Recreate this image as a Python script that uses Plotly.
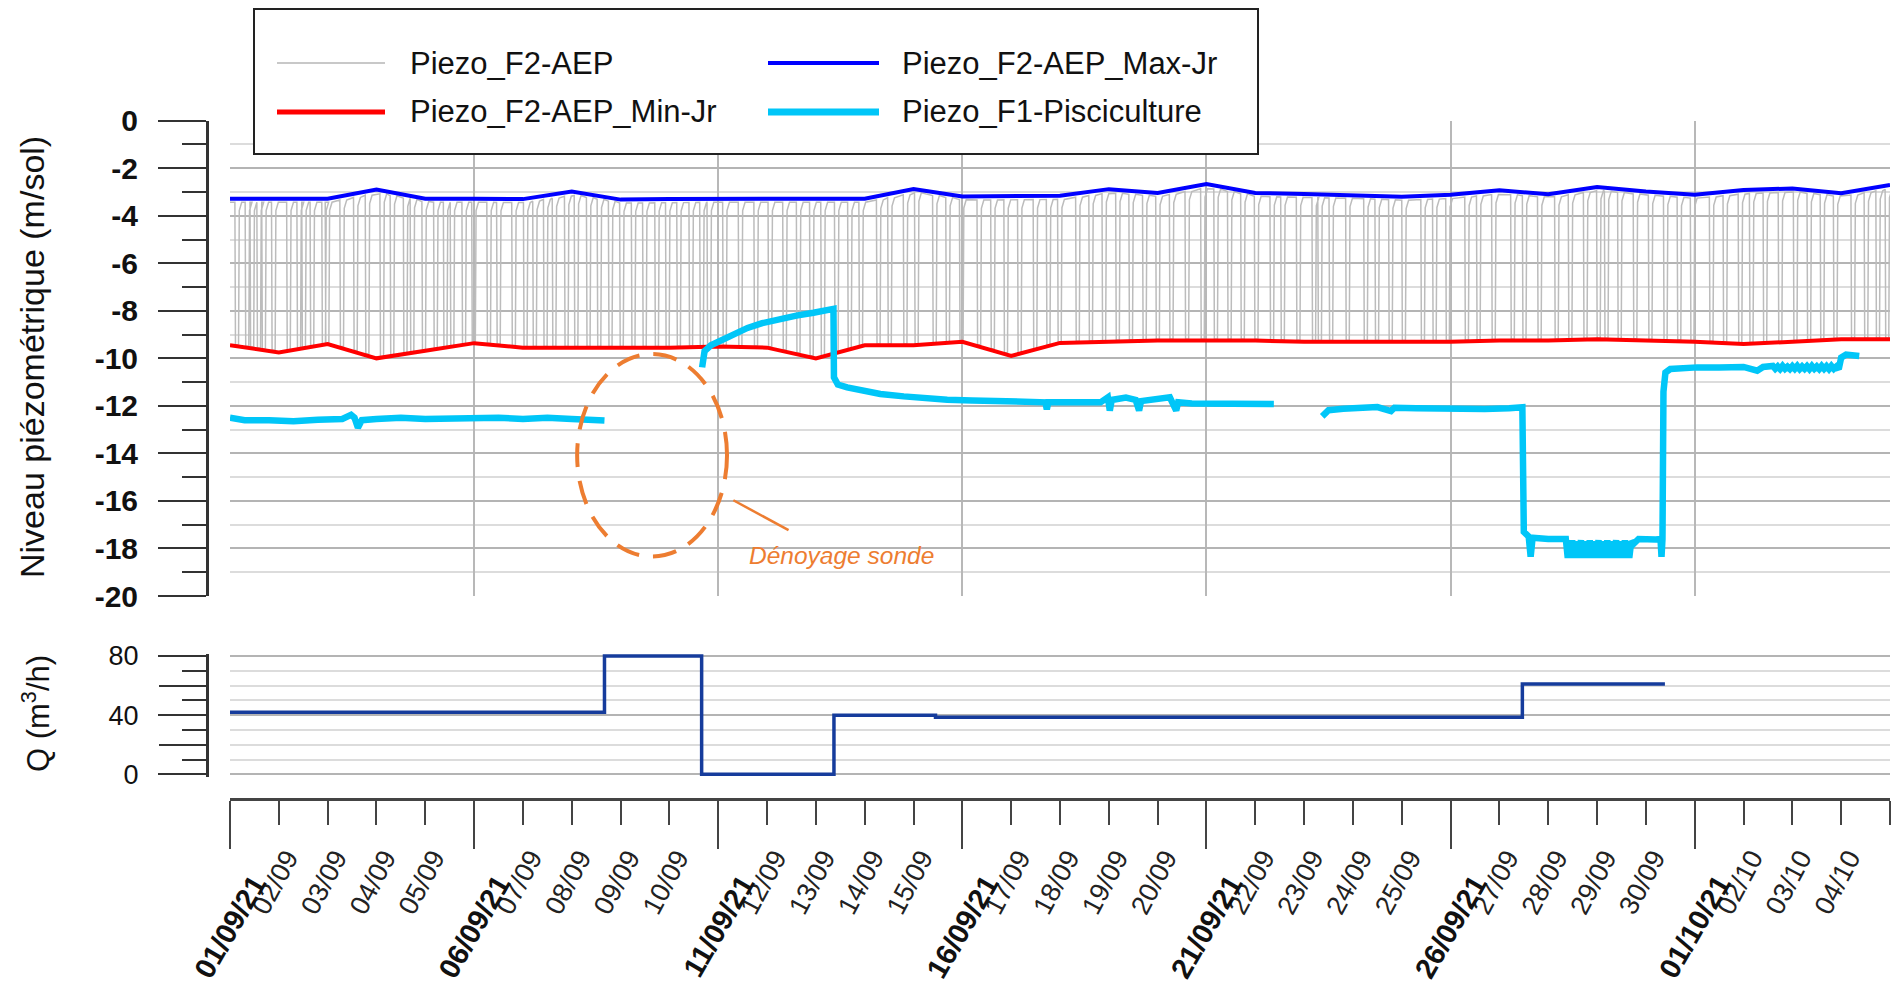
import numpy as np
import pandas as pd
import plotly.graph_objects as go

W, H = 1899, 996
T0 = pd.Timestamp("2021-09-01")


def t(days):
    return [None if d is None else T0 + pd.Timedelta(days=float(d)) for d in days]


def px(x):
    return x / W


def py(y):
    return 1 - y / H


# ---------------- data ----------------
# daily points, 01/09/21 .. 05/10/21 (day offsets 0..34)
day_index = list(range(35))
f2_max_jr = [-3.28, -3.28, -3.28, -2.90, -3.28, -3.28, -3.30, -2.98, -3.32, -3.30,
             -3.28, -3.28, -3.28, -3.28, -2.88, -3.19, -3.18, -3.16, -2.88, -3.04,
             -2.67, -3.04, -3.08, -3.12, -3.20, -3.12, -2.93, -3.09, -2.79, -2.98,
             -3.12, -2.92, -2.85, -3.05, -2.70]
f2_min_jr = [-9.45, -9.75, -9.40, -10.00, -9.68, -9.36, -9.55, -9.55, -9.55, -9.55,
             -9.50, -9.55, -10.00, -9.45, -9.45, -9.30, -9.90, -9.35, -9.30, -9.25,
             -9.25, -9.25, -9.30, -9.30, -9.30, -9.30, -9.25, -9.25, -9.20, -9.25,
             -9.30, -9.40, -9.30, -9.20, -9.20]

# pump start times on F2-AEP (day offsets): each one draws the level down to the daily min
f2_pump_starts = [
    0.10, 0.31, 0.41, 0.55, 0.65, 0.85, 1.16, 1.37, 1.47, 1.64, 1.88, 1.95,
    2.25, 2.53, 2.77, 3.07, 3.28, 3.55, 3.69, 3.93, 4.17, 4.37, 4.51, 4.75,
    4.95, 5.26, 5.46, 5.77, 6.01, 6.20, 6.42, 6.60, 6.85, 7.05, 7.30, 7.52,
    7.75, 7.98, 8.22, 8.45, 8.70, 8.92, 9.15, 9.40, 9.62, 9.77, 10.09, 10.41,
    10.73, 11.02, 11.32, 11.60, 11.87, 12.10, 12.38, 12.65, 12.88, 13.24, 13.47,
    13.79, 14.02, 14.39, 14.66, 14.94, 15.30, 15.58, 15.85, 16.13, 16.45, 16.72,
    16.95, 17.32, 17.59, 17.86, 18.14, 18.41, 18.69, 18.96, 19.24, 19.56, 19.88,
    20.15, 20.43, 20.70, 20.98, 21.30, 21.52, 21.84, 22.16, 22.28, 22.51, 22.85,
    23.22, 23.45, 23.73, 24.00, 24.39, 24.63, 24.90, 25.29, 25.53, 25.84, 26.23,
    26.47, 26.78, 27.13, 27.41, 27.72, 27.99, 28.15, 28.42, 28.74, 29.05, 29.36,
    29.64, 29.91, 30.30, 30.58, 30.89, 31.12, 31.40, 31.71, 32.02, 32.30, 32.57,
    32.84, 33.20, 33.47, 33.71, 33.90]

# Piezo_F1-Pisciculture, recorded segments (day offset, level)
f1_segments = [
    ([0.0, 0.3, 0.8, 1.3, 1.8, 2.3, 2.48, 2.55, 2.62, 2.7, 3.0, 3.5, 4.0, 4.5,
      5.0, 5.5, 6.0, 6.5, 7.0, 7.4, 7.67],
     [-12.5, -12.6, -12.6, -12.65, -12.58, -12.55, -12.38, -12.5, -12.92, -12.6,
      -12.55, -12.5, -12.55, -12.52, -12.55, -12.5, -12.55, -12.5, -12.55, -12.6, -12.62]),
    ([9.67, 9.72, 9.85, 10.1, 10.35, 10.6, 10.9, 11.27, 11.6, 11.95, 12.36, 12.37,
      12.45, 12.64, 13.0, 13.32, 13.8, 14.2, 14.69, 15.2, 15.6, 16.05, 16.5, 16.7,
      16.73, 16.76, 17.3, 17.83, 17.98, 18.02, 18.06, 18.35, 18.55, 18.62, 18.66,
      18.9, 19.25, 19.38, 19.42, 19.7, 20.3, 20.8, 21.38],
     [-10.38, -9.7, -9.45, -9.2, -8.95, -8.72, -8.52, -8.33, -8.2, -8.08, -7.92, -10.8,
      -11.1, -11.22, -11.38, -11.5, -11.6, -11.68, -11.74, -11.77, -11.8, -11.78, -11.83, -11.85,
      -12.15, -11.85, -11.85, -11.85, -11.64, -12.2, -11.75, -11.65, -11.75, -12.2, -11.8,
      -11.71, -11.64, -12.2, -11.85, -11.9, -11.92, -11.9, -11.92]),
    ([22.37, 22.5, 22.8, 23.2, 23.5, 23.78, 23.85, 24.3, 24.8, 25.2, 25.7, 26.2, 26.47,
      26.5, 26.6, 26.64, 26.68, 27.0, 27.36,
      27.40, 27.43, 27.46, 27.49, 27.52, 27.55, 27.58, 27.61, 27.64, 27.67, 27.70,
      27.73, 27.76, 27.79, 27.82, 27.85, 27.88, 27.91, 27.94, 27.97, 28.00, 28.03,
      28.06, 28.09, 28.12, 28.15, 28.18, 28.21, 28.24, 28.27, 28.30, 28.33, 28.36,
      28.39, 28.42, 28.45, 28.48, 28.51, 28.54, 28.57, 28.60, 28.63, 28.66, 28.70,
      28.75, 28.85, 29.2, 29.3, 29.32, 29.34, 29.36, 29.4, 29.5, 29.8, 30.05, 30.5,
      31.0, 31.28, 31.4, 31.6, 31.65, 31.7, 31.75, 31.8, 31.85, 31.9, 31.95, 32.0,
      32.05, 32.1, 32.15, 32.2, 32.25, 32.3, 32.35, 32.4, 32.45, 32.5, 32.55, 32.6,
      32.65, 32.7, 32.75, 32.8, 32.85, 32.9, 32.95, 33.0, 33.1, 33.37],
     [-12.44, -12.18, -12.12, -12.08, -12.05, -12.22, -12.08, -12.1, -12.12, -12.1, -12.13,
      -12.1, -12.06, -17.3, -17.5, -18.35, -17.55, -17.6, -17.6,
      -18.4, -17.7, -18.4, -17.65, -18.38, -17.7, -18.4, -17.8, -18.35, -17.65, -18.4,
      -17.75, -18.4, -17.7, -18.38, -17.65, -18.4, -17.8, -18.4, -17.7, -18.35, -17.65,
      -18.4, -17.75, -18.4, -17.7, -18.38, -17.65, -18.4, -17.8, -18.4, -17.7, -18.35,
      -17.65, -18.4, -17.75, -18.4, -17.7, -18.38, -17.65, -18.4, -17.8, -18.4, -17.7,
      -17.8, -17.6, -17.62, -17.6, -18.35, -17.6, -11.4, -10.6, -10.45, -10.4, -10.38,
      -10.38, -10.36, -10.52, -10.36, -10.32, -10.44, -10.34, -10.45, -10.32, -10.44,
      -10.35, -10.45, -10.33, -10.44, -10.32, -10.45, -10.34, -10.44, -10.33, -10.45,
      -10.32, -10.44, -10.34, -10.45, -10.32, -10.44, -10.33, -10.45, -10.32, -10.44,
      -10.35, -10.45, -9.97, -9.84, -9.9]),
]

# pumping rate Q (m3/h), step changes
q_change_days = [0.0, 7.67, 9.66, 12.37, 14.45, 26.47, 29.39]
q_values = [42, 80, 0, 40, 38.5, 61, 61]

# axis labels
major_days = [0, 5, 10, 15, 20, 25, 30]
major_labels = ["01/09/21", "06/09/21", "11/09/21", "16/09/21", "21/09/21", "26/09/21", "01/10/21"]
minor_days = [d for d in range(1, 34) if d % 5 != 0]
minor_labels = [(T0 + pd.Timedelta(days=d)).strftime("%d/%m") for d in minor_days]
level_ticks = list(range(0, -21, -2))
q_label_ticks = [0, 40, 80]
q_long_ticks = [20, 60]

# ---------------- derived traces ----------------
gx, gy = [], []
for s in f2_pump_starts:
    top = float(np.interp(s, day_index, f2_max_jr)) - 0.15
    bot = float(np.interp(s, day_index, f2_min_jr)) + 0.05
    for dx, lev in [(0.0, top), (0.012, bot), (0.075, bot), (0.09, top - 0.35), (0.14, top)]:
        gx.append(s + dx)
        gy.append(lev)
gx = [0.0] + gx + [34.0]
gy = [f2_max_jr[0] - 0.15] + gy + [f2_max_jr[-1] - 0.15]

cx, cy = [], []
for xs, ys in f1_segments:
    cx += list(xs) + [None]
    cy += list(ys) + [None]

FONT = "Liberation Sans, Arial, sans-serif"
DARK = "#333333"

fig = go.Figure()
fig.add_trace(go.Scatter(x=t(gx), y=gy, mode="lines", name="Piezo_F2-AEP",
                         line=dict(color="#bcbcbc", width=1.5), showlegend=False))
fig.add_trace(go.Scatter(x=t(day_index), y=f2_min_jr, mode="lines", name="Piezo_F2-AEP_Min-Jr",
                         line=dict(color="#ff0000", width=4), showlegend=False))
fig.add_trace(go.Scatter(x=t(day_index), y=f2_max_jr, mode="lines", name="Piezo_F2-AEP_Max-Jr",
                         line=dict(color="#0000ff", width=4), showlegend=False))
fig.add_trace(go.Scatter(x=t(cx), y=cy, mode="lines", name="Piezo_F1-Pisciculture",
                         line=dict(color="#00c6f8", width=6.5), connectgaps=False, showlegend=False))
fig.add_trace(go.Scatter(x=t(q_change_days), y=q_values, mode="lines", name="Q",
                         line=dict(color="#163c9c", width=3.5, shape="hv"),
                         xaxis="x2", yaxis="y2", showlegend=False))
# anchors for the helper axes
for ax in ["x3", "x4", "x5"]:
    fig.add_trace(go.Scatter(x=t([0, 34]), y=[None, None], xaxis=ax, yaxis="y",
                             showlegend=False, hoverinfo="skip"))
fig.add_trace(go.Scatter(x=t([0, 34]), y=[None, None], xaxis="x2", yaxis="y3",
                         showlegend=False, hoverinfo="skip"))

x_range = t([0, 34])
dom_x = [px(230), px(1890)]
DAY_MS = 86400000


def shifted(days):
    return t([-days, 34 - days])


fig.update_layout(
    width=W, height=H, margin=dict(l=0, r=0, t=0, b=0, pad=0, autoexpand=False),
    paper_bgcolor="white", plot_bgcolor="white",
    font=dict(family=FONT, color="#111111"),
    xaxis=dict(domain=dom_x, range=x_range, anchor="y", showticklabels=False, ticks="",
               showgrid=True, gridcolor="#b8b8b8", gridwidth=2, tickmode="linear",
               tick0=T0, dtick=5 * DAY_MS, zeroline=False, showline=False, automargin=False),
    xaxis2=dict(domain=dom_x, range=x_range, anchor="y2", showticklabels=False, ticks="",
                showgrid=False, zeroline=False, showline=False, automargin=False),
    xaxis3=dict(overlaying="x", anchor="free", position=py(799), range=x_range,
                showline=True, linewidth=3, linecolor="#444444", showgrid=False,
                ticks="outside", tickmode="linear", tick0=T0, dtick=5 * DAY_MS,
                ticklen=48, tickwidth=2, tickcolor="#444444", showticklabels=False,
                automargin=False,
                minor=dict(ticks="outside", ticklen=24, tickwidth=2, tickcolor="#444444",
                           tickmode="linear", tick0=T0, dtick=DAY_MS, showgrid=False)),
    xaxis4=dict(overlaying="x", anchor="free", position=py(836), range=shifted(0.17),
                showline=False, showgrid=False, ticks="", tickmode="array",
                tickvals=t(minor_days), ticktext=minor_labels, tickangle=-62, automargin=False,
                tickfont=dict(size=27, color="#222222", family=FONT)),
    xaxis5=dict(overlaying="x", anchor="free", position=py(860), range=shifted(0.5),
                showline=False, showgrid=False, ticks="", tickmode="array",
                tickvals=t(major_days), ticktext=major_labels, tickangle=-60, automargin=False,
                tickfont=dict(size=29, color="#111111", family=FONT, weight="bold")),
    yaxis=dict(domain=[py(596), py(120.7)], range=[-20, 0], anchor="free", position=px(207),
               tickmode="array", tickvals=level_ticks, ticktext=[str(v) for v in level_ticks],
               ticks="outside", ticklen=48, tickwidth=2, tickcolor=DARK,
               showline=True, linewidth=3, linecolor=DARK, zeroline=False, automargin=False,
               showgrid=True, gridcolor="#b4b4b4", gridwidth=2, ticklabelstandoff=14,
               tickfont=dict(size=30, weight="bold", color="#111111", family=FONT),
               minor=dict(ticks="outside", ticklen=24, tickwidth=2, tickcolor=DARK,
                          tickmode="linear", tick0=0, dtick=1, showgrid=True,
                          gridcolor="#dcdcdc", gridwidth=2)),
    yaxis2=dict(domain=[py(776.5), py(653.8)], range=[-1.5, 81.5], anchor="free",
                position=px(207), tickmode="array", tickvals=q_label_ticks,
                ticktext=[str(v) for v in q_label_ticks],
                ticks="outside", ticklen=48, tickwidth=2, tickcolor=DARK, automargin=False,
                showline=True, linewidth=3, linecolor=DARK, zeroline=False,
                showgrid=True, gridcolor="#b4b4b4", gridwidth=2, ticklabelstandoff=14,
                tickfont=dict(size=27, color="#111111", family=FONT),
                minor=dict(ticks="outside", ticklen=24, tickwidth=2, tickcolor=DARK,
                           tickmode="linear", tick0=0, dtick=10, showgrid=True,
                           gridcolor="#dcdcdc", gridwidth=2)),
    # long ticks at 20 and 60 on the flow axis
    yaxis3=dict(overlaying="y2", anchor="free", position=px(207), range=[-1.5, 81.5],
                tickmode="array", tickvals=q_long_ticks, ticks="outside", ticklen=48,
                tickwidth=2, tickcolor=DARK, showticklabels=False, showgrid=False,
                showline=False, zeroline=False, automargin=False),
)

ORANGE = "#ed7d31"
# dewatered-probe marker and callout
fig.add_shape(type="circle", xref="x", yref="y", x0=T0 + pd.Timedelta(days=7.11),
              x1=T0 + pd.Timedelta(days=10.18), y0=-18.34, y1=-9.82,
              line=dict(color=ORANGE, width=4, dash="24px,14px"))
fig.add_shape(type="line", xref="x", yref="y", x0=T0 + pd.Timedelta(days=10.31), y0=-15.97,
              x1=T0 + pd.Timedelta(days=11.44), y1=-17.23, line=dict(color=ORANGE, width=2.5))
fig.add_annotation(x=T0 + pd.Timedelta(days=12.52), y=-18.28, xref="x", yref="y",
                   text="<i>Dénoyage sonde</i>", showarrow=False,
                   xanchor="center", yanchor="middle",
                   font=dict(size=24.5, color=ORANGE, family=FONT))

# axis titles
fig.add_annotation(x=px(32), y=py(357), xref="paper", yref="paper", textangle=-90,
                   text="Niveau piézométrique (m/sol)", showarrow=False,
                   xanchor="center", yanchor="middle",
                   font=dict(size=34, color="#111111", family=FONT))
fig.add_annotation(x=px(36), y=py(714), xref="paper", yref="paper", textangle=-90,
                   text="Q (m<sup>3</sup>/h)", showarrow=False,
                   xanchor="center", yanchor="middle",
                   font=dict(size=31, color="#111111", family=FONT))

# legend box
fig.add_shape(type="rect", xref="paper", yref="paper", x0=px(254), x1=px(1258),
              y0=py(154), y1=py(9), line=dict(color="#222222", width=2),
              fillcolor="white", layer="above")
legend_items = [
    ("Piezo_F2-AEP", "#c8c8c8", 2, 277, 385, 408, 63),
    ("Piezo_F2-AEP_Max-Jr", "#0000ff", 4, 768, 879, 900, 63),
    ("Piezo_F2-AEP_Min-Jr", "#ff0000", 5, 277, 385, 408, 112),
    ("Piezo_F1-Pisciculture", "#00c6f8", 7, 768, 879, 900, 112),
]
for name, col, lw, lx0, lx1, tx, ly in legend_items:
    fig.add_shape(type="line", xref="paper", yref="paper", x0=px(lx0), x1=px(lx1),
                  y0=py(ly), y1=py(ly), line=dict(color=col, width=lw), layer="above")
    fig.add_annotation(x=px(tx), y=py(ly), xref="paper", yref="paper", text=name,
                       showarrow=False, xanchor="left", yanchor="middle",
                       font=dict(size=31, color="#111111", family=FONT))

fig.write_html("out.html")
